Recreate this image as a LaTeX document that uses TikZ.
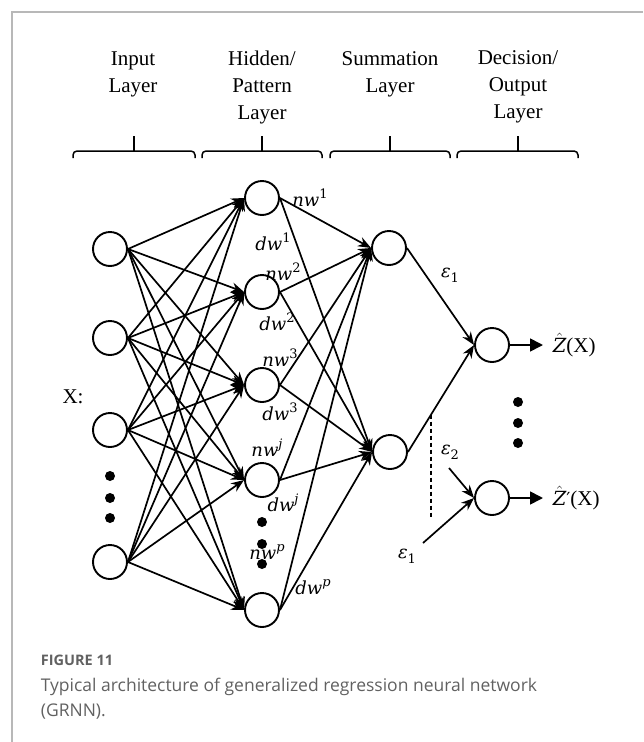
\documentclass[tikz,border=0pt]{standalone}
\usepackage{fontspec}
\setmainfont{Liberation Serif}
\newfontfamily\capfont{Open Sans}
\newfontfamily\wfont{DejaVu Serif}
\usetikzlibrary{arrows.meta,calc}
% weight and error labels
\newcommand{\wgt}[2]{{\wfont\itshape #1}\raisebox{0.45em}{\wfont\fontsize{13}{13}\selectfont #2}}
\newcommand{\eps}[1]{{\wfont\itshape ε}\raisebox{-0.3em}{\wfont\fontsize{13}{13}\selectfont #1}}
\newcommand{\zhat}{$\hat{\hbox{\wfont\itshape\fontsize{19.5}{20}\selectfont Z}}$}
\begin{document}
\begin{tikzpicture}
        [x=1pt,y=-1pt,line width=1.7pt,
         every node/.style={font=\fontsize{21}{27}\selectfont},
         neuron/.style={circle,draw,line width=1.9pt,minimum size=34pt,inner sep=0pt},
         layer/.style={align=center,inner sep=0pt},
         wlabel/.style={inner sep=0pt,font=\fontsize{18}{20}\selectfont},
         dot/.style={circle,fill,minimum size=10pt,inner sep=0pt},
         link/.style={-{Stealth[length=13pt,width=10pt]}},
         outlink/.style={-{Triangle[length=13pt,width=13pt]},shorten >=9pt},
         caption/.style={anchor=base west,inner sep=0pt,text=black!62}]
        \useasboundingbox (0,0) rectangle (643,742);
        % frame
        \draw[line width=1.3pt,black!28] (12,742) -- (12,12) -- (643,12);

        % layer titles
        \node[layer] (tIn)  at (133,74) {Input\\Layer};
        \node[layer] (tHid) at (262,87) {Hidden/\\Pattern\\Layer};
        \node[layer] (tSum) at (390,74) {Summation\\Layer};
        \node[layer] (tOut) at (518,87) {Decision/\\Output\\Layer};

        % brackets
        \draw[line width=1.5pt,rounded corners=4pt] (73,158) -- (73,151) -- (195,151) -- (195,158);
        \draw[line width=1.5pt,rounded corners=4pt] (202,158) -- (202,151) -- (322,151) -- (322,158);
        \draw[line width=1.5pt,rounded corners=4pt] (330,158) -- (330,151) -- (450,151) -- (450,158);
        \draw[line width=1.5pt,rounded corners=4pt] (457,158) -- (457,151) -- (578,151) -- (578,158);
        \draw[line width=1.5pt] (134,151) -- (134,136);
        \draw[line width=1.5pt] (262,151) -- (262,136);
        \draw[line width=1.5pt] (390,151) -- (390,136);
        \draw[line width=1.5pt] (518,151) -- (518,136);

        % input layer
        \node[neuron] (I1) at (110,249) {};
        \node[neuron] (I2) at (110,338) {};
        \node[neuron] (I3) at (110,430) {};
        \node[neuron] (I4) at (110,562) {};
        \node (X) at (73,397) {X:};

        % hidden layer
        \node[neuron] (H1) at (262,198) {};
        \node[neuron] (H2) at (262,292) {};
        \node[neuron] (H3) at (262,385) {};
        \node[neuron] (H4) at (262,480) {};
        \node[neuron] (H5) at (262,610) {};

        % summation layer
        \node[neuron] (S1) at (389,248) {};
        \node[neuron] (S2) at (390,452) {};

        % output layer
        \node[neuron] (O1) at (492,345) {};
        \node[neuron] (O2) at (492,498) {};

        % dots
        \node[dot] (dI1) at (110,476) {};
        \node[dot] (dI2) at (110,498) {};
        \node[dot] (dI3) at (110,518) {};
        \node[dot] (dH1) at (262,522) {};
        \node[dot] (dH2) at (262,544) {};
        \node[dot] (dH3) at (262,564) {};
        \node[dot] (dO1) at (518,402) {};
        \node[dot] (dO2) at (518,423) {};
        \node[dot] (dO3) at (518,443) {};

        \draw[every edge/.append style={link}]
        (I1.east)   edge    (H1.west)
        (I1.east)   edge    (H2.west)
        (I1.east)   edge    (H3.west)
        (I1.east)   edge    (H4.west)
        (I1.east)   edge    (H5.west)

        (I2.east)   edge    (H1.west)
        (I2.east)   edge    (H2.west)
        (I2.east)   edge    (H3.west)
        (I2.east)   edge    (H4.west)
        (I2.east)   edge    (H5.west)

        (I3.east)   edge    (H1.west)
        (I3.east)   edge    (H2.west)
        (I3.east)   edge    (H3.west)
        (I3.east)   edge    (H4.west)
        (I3.east)   edge    (H5.west)

        (I4.east)   edge    (H1.west)
        (I4.east)   edge    (H2.west)
        (I4.east)   edge    (H3.west)
        (I4.east)   edge    (H4.west)
        (I4.east)   edge    (H5.west)

        % nw and dw links
        (H1.east)   edge    (S1.west)
        (H2.east)   edge    (S1.west)
        (H3.east)   edge    (S1.west)
        (H4.east)   edge    (S1.west)
        (H5.east)   edge    (S1.west)
        (H1.east)   edge    (S2.west)
        (H2.east)   edge    (S2.west)
        (H3.east)   edge    (S2.west)
        (H4.east)   edge    (S2.west)
        (H5.east)   edge    (S2.west)

        (S1.east)   edge    (O1.west)
        (S2.east)   edge    (O1.west);

        % weight labels
        \node[wlabel] (nw1) at (310,198) {\wgt{nw}{1}};
        \node[wlabel] (dw1) at (273,242) {\wgt{dw}{1}};
        \node[wlabel] (nw2) at (283,272) {\wgt{nw}{2}};
        \node[wlabel] (dw2) at (277,322) {\wgt{dw}{2}};
        \node[wlabel] (nw3) at (280,358) {\wgt{nw}{3}};
        \node[wlabel] (dw3) at (280,412) {\wgt{dw}{3}};
        \node[wlabel] (nwj) at (267,448) {\wgt{nw}{\itshape j}};
        \node[wlabel] (dwj) at (283,503) {\wgt{dw}{\itshape j}};
        \node[wlabel] (nwp) at (267,552) {\wgt{nw}{\itshape p}};
        \node[wlabel] (dwp) at (313,587) {\wgt{dw}{\itshape p}};

        % decision part
        \node[wlabel] (e1)  at (450,275) {\eps{1}};
        \node[wlabel] (e2)  at (450,452) {\eps{2}};
        \node[wlabel] (e1b) at (407,556) {\eps{1}};
        \coordinate (e2tail) at (449,468);
        \coordinate (e1tail) at (423,543);
        \coordinate (cut) at ($(S2.east)!0.35!(O1.west)$);
        \coordinate (cutend) at (431,518);
        \draw[line width=1.4pt,dash pattern=on 4pt off 3pt] (cut) -- (cut |- cutend);
        \draw[link] (e2tail) -- (O2.west);
        \draw[link] (e1tail) -- (O2.west);

        \node[anchor=west,inner sep=0pt] (ZX)  at (552,345) {\zhat(X)};
        \node[anchor=west,inner sep=0pt] (ZpX) at (552,498) {\zhat{\wfont\fontsize{18}{20}\selectfont ′}(X)};
        \draw[outlink] (O1.east) -- (ZX.west);
        \draw[outlink] (O2.east) -- (ZpX.west);

        % caption
        \node[caption,font=\capfont\bfseries\fontsize{14.5}{17}\selectfont] (fig) at (40,665) {FIGURE 11};
        \node[caption,font=\capfont\fontsize{17.5}{24}\selectfont] (cap1) at (40,691)
            {Typical architecture of generalized regression neural network};
        \node[caption,font=\capfont\fontsize{17.5}{24}\selectfont] (cap2) at (40,716) {(GRNN).};
\end{tikzpicture}
\end{document}
